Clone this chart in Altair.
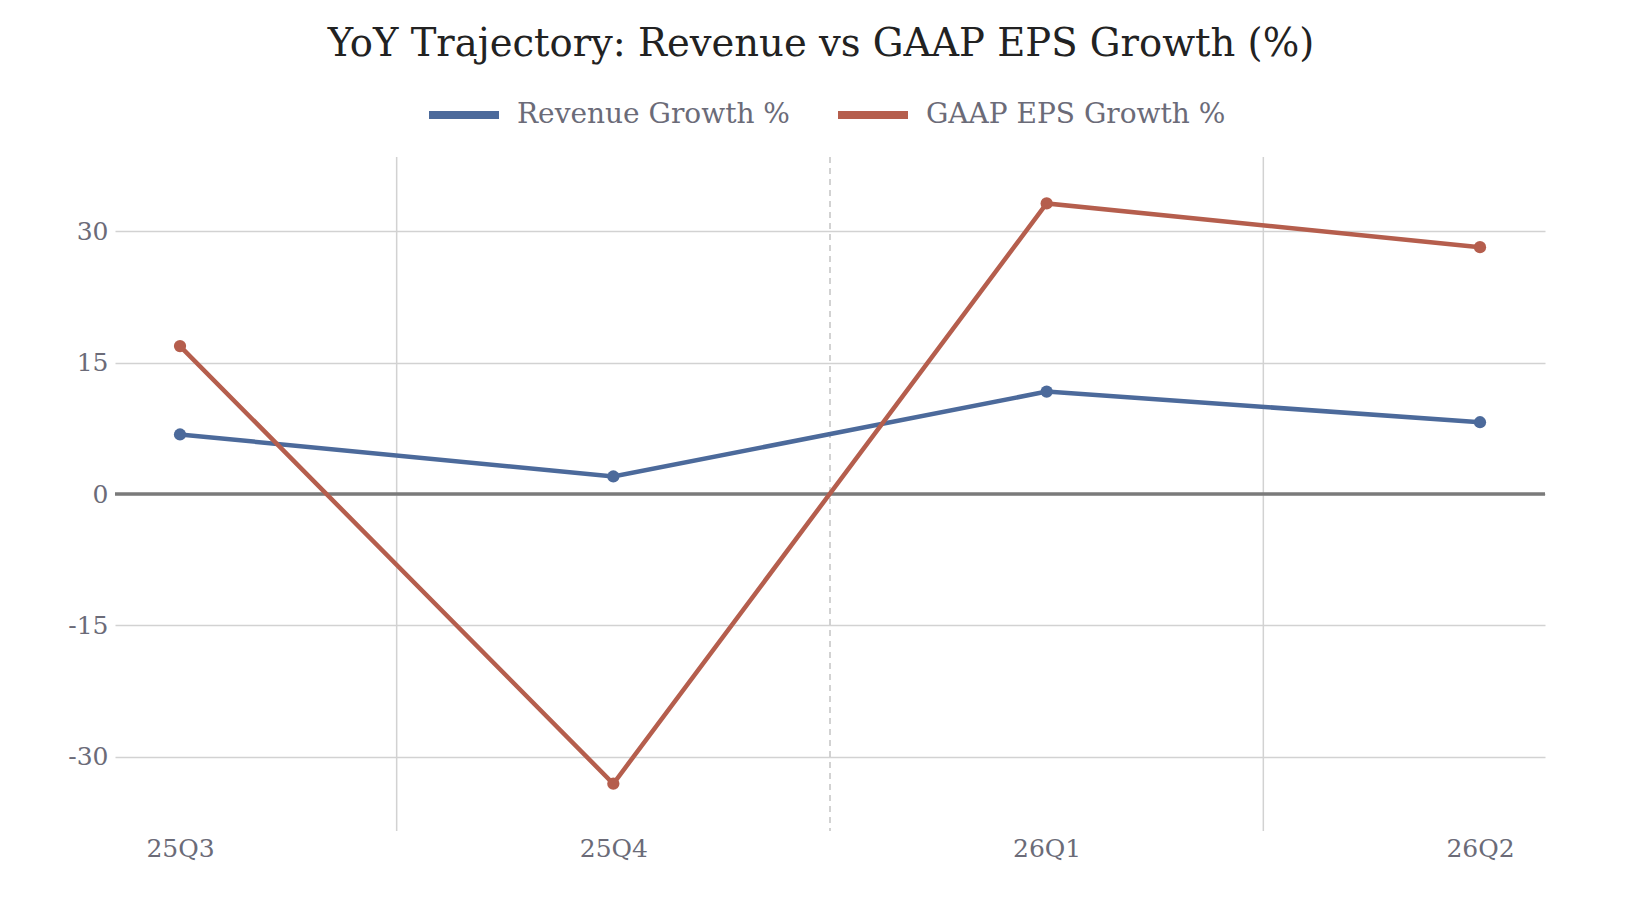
import altair as alt
import pandas as pd

quarters = ["25Q3", "25Q4", "26Q1", "26Q2"]
revenue_growth = [6.8, 2.0, 11.7, 8.2]
eps_growth = [16.9, -33.1, 33.2, 28.2]
series_names = ["Revenue Growth %", "GAAP EPS Growth %"]
series_colors = ["#4C6A9B", "#B55E4D"]
y_ticks = [-30, -15, 0, 15, 30]
solid_separators = [0.5, 2.5]
dashed_separators = [1.5]

rows = []
for i, q in enumerate(quarters):
    rows.append({"idx": i, "quarter": q, "series": series_names[0], "value": revenue_growth[i]})
    rows.append({"idx": i, "quarter": q, "series": series_names[1], "value": eps_growth[i]})
df = pd.DataFrame(rows)

label_expr = "[" + ",".join(f"'{q}'" for q in quarters) + "][datum.value]"

FONT = "DejaVu Serif"
GREY = "#6b6b78"

x_scale = alt.Scale(domain=[-0.15, 3.15], nice=False, zero=False)
y_scale = alt.Scale(domain=[-38.5, 38.5], nice=False)

x_enc = alt.X(
    "idx:Q",
    scale=x_scale,
    axis=alt.Axis(
        values=list(range(len(quarters))),
        labelExpr=label_expr,
        grid=False,
        domain=False,
        ticks=False,
        title=None,
        labelFont=FONT,
        labelFontSize=25,
        labelColor=GREY,
        labelPadding=5,
    ),
)
y_enc = alt.Y(
    "value:Q",
    scale=y_scale,
    axis=alt.Axis(
        values=y_ticks,
        labelExpr="'' + datum.value",
        grid=True,
        gridColor="#d2d2d2",
        gridWidth=1.5,
        domain=False,
        ticks=False,
        title=None,
        labelFont=FONT,
        labelFontSize=25,
        labelColor=GREY,
        labelPadding=7,
        minExtent=107,
        maxExtent=107,
    ),
)

sep_solid = alt.Chart(pd.DataFrame({"x": solid_separators})).mark_rule(
    color="#d2d2d2", strokeWidth=1.5
).encode(x=alt.X("x:Q", scale=x_scale))

sep_dashed = alt.Chart(pd.DataFrame({"x": dashed_separators})).mark_rule(
    color="#c4c4c4", strokeWidth=1.5, strokeDash=[6, 5]
).encode(x=alt.X("x:Q", scale=x_scale))

zero_line = alt.Chart(pd.DataFrame({"y": [0]})).mark_rule(
    color="#7a7a7a", strokeWidth=3.5
).encode(y=alt.Y("y:Q", scale=y_scale))

color_enc = alt.Color(
    "series:N",
    scale=alt.Scale(domain=series_names, range=series_colors),
    legend=alt.Legend(
        title=None,
        orient="none",
        legendX=310,
        legendY=-81,
        direction="horizontal",
        symbolType="stroke",
        symbolSize=4900,
        symbolStrokeWidth=8,
        labelFont=FONT,
        labelFontSize=28,
        labelColor=GREY,
        labelOffset=14,
        labelLimit=0,
        columnPadding=32,
    ),
    sort=series_names,
)

lines = alt.Chart(df).mark_line(strokeWidth=4.5).encode(
    x=x_enc, y=y_enc, color=color_enc, order="idx:Q"
)
points = alt.Chart(df).mark_circle(size=150, opacity=1).encode(
    x=x_enc, y=y_enc, color=alt.Color("series:N", scale=alt.Scale(domain=series_names, range=series_colors), legend=None)
)

chart = alt.layer(sep_solid, sep_dashed, zero_line, lines, points).properties(
    width=1430,
    height=674,
    padding={"left": 0, "top": 16, "right": 20, "bottom": 20},
    title=alt.TitleParams(
        "YoY Trajectory: Revenue vs GAAP EPS Growth (%)",
        font=FONT,
        fontSize=38.5,
        fontWeight="normal",
        color="#222222",
        anchor="middle",
        offset=12,
        dx=-9,
    ),
).configure(background="white").configure_view(stroke="transparent", strokeWidth=0)

chart.save("out.html", embed_options={"renderer": "svg", "actions": False})
